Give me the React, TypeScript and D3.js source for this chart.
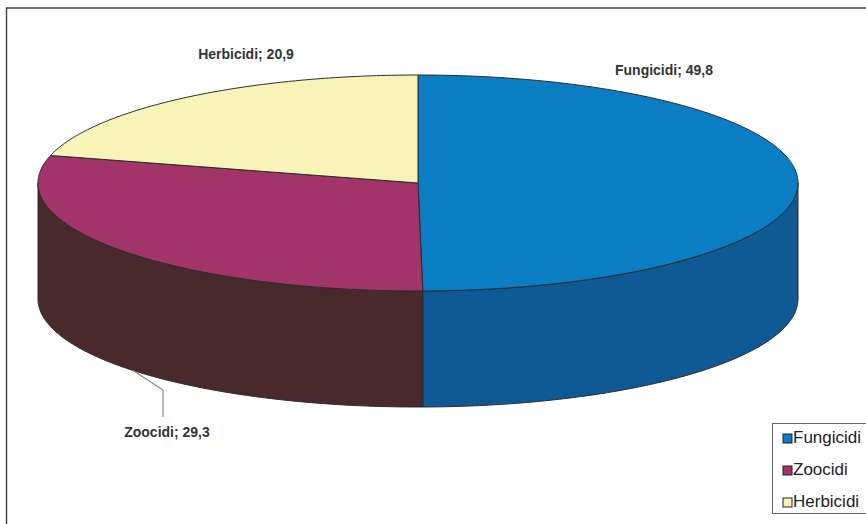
import React from 'react';
import * as d3 from 'd3';

const categories = ['Fungicidi', 'Zoocidi', 'Herbicidi'];
const values = [49.8, 29.3, 20.9];
const valueLabels = ['49,8', '29,3', '20,9'];
const topColors = ['#0a7dc3', '#a3346a', '#f8f3b8'];
const sideColors = ['#0e5993', '#4a292c', '#c9c38f'];

const W = 866;
const H = 524;
const cx = 418;
const cy = 183;
const rx = 380;
const ry = 108;
const depth = 116;

function pt(a: number, dy = 0): [number, number] {
  return [cx + rx * Math.sin(a), cy - ry * Math.cos(a) + dy];
}

function arcPts(a0: number, a1: number, dy = 0): [number, number][] {
  const n = Math.max(2, Math.ceil(Math.abs(a1 - a0) / 0.01));
  return d3.range(n + 1).map((i) => pt(a0 + ((a1 - a0) * i) / n, dy));
}

export default function App() {
  const arcs = d3.pie<number>().sort(null).startAngle(0).endAngle(2 * Math.PI)(values);
  const line = d3.line();

  const sides = arcs.map((a, i) => {
    const s = Math.max(a.startAngle, Math.PI / 2);
    const e = Math.min(a.endAngle, (3 * Math.PI) / 2);
    if (s >= e) return null;
    const top = arcPts(s, e, 0);
    const bot = arcPts(e, s, depth);
    return (
      <path
        key={'s' + i}
        d={line([...top, ...bot])! + 'Z'}
        fill={sideColors[i]}
        stroke="#2a2a2a"
        strokeWidth={1}
        strokeLinejoin="round"
      />
    );
  });

  const tops = arcs.map((a, i) => {
    const pts: [number, number][] = [[cx, cy], ...arcPts(a.startAngle, a.endAngle, 0)];
    return (
      <path
        key={'t' + i}
        d={line(pts)! + 'Z'}
        fill={topColors[i]}
        stroke="#2a2a2a"
        strokeWidth={1}
        strokeLinejoin="round"
      />
    );
  });

  const labelFont = "'Liberation Sans Narrow', 'Arial Narrow', 'Liberation Sans', Arial, sans-serif";
  const labelPos: [number, number][] = [
    [664, 75],
    [167, 437],
    [246, 59],
  ];

  // leader for Zoocidi
  const zA = arcs[1];
  const zMid = (zA.startAngle + zA.endAngle) / 2;
  const leaderStart = pt(zMid - 0.06, depth);

  const legendX = 772;
  const legendY = 423;
  const legendRowH = 32;

  return (
    <svg
      width={W}
      height={H}
      style={{ position: 'absolute', left: 0, top: 0, background: '#fff' }}
    >
      <rect x={0} y={0} width={W} height={H} fill="#fff" />
      <rect x={6.5} y={8} width={W + 20} height={H + 20} fill="none" stroke="#444" strokeWidth={1.5} />
      {sides}
      {tops}
      <polyline
        points={[leaderStart, [163, 390], [163, 417]].map((p) => p.join(',')).join(' ')}
        fill="none"
        stroke="#888"
        strokeWidth={1.2}
      />
      {categories.map((c, i) => (
        <text
          key={'l' + i}
          x={labelPos[i][0]}
          y={labelPos[i][1]}
          textAnchor="middle"
          fontFamily={labelFont}
          fontWeight="bold"
          fontSize={14}
          fill="#333"
        >
          {c + '; ' + valueLabels[i]}
        </text>
      ))}
      <rect x={legendX + 0.5} y={legendY + 0.5} width={W} height={90} fill="#fff" stroke="#666" strokeWidth={1} />
      {categories.map((c, i) => (
        <g key={'g' + i} transform={`translate(${legendX + 11},${legendY + 20 + i * legendRowH})`}>
          <rect x={0} y={-9} width={9} height={9} fill={topColors[i]} stroke="#222" strokeWidth={1} />
          <text x={10} y={0} fontFamily="'Liberation Sans', Arial, sans-serif" fontSize={17} fill="#222">
            {c}
          </text>
        </g>
      ))}
    </svg>
  );
}
